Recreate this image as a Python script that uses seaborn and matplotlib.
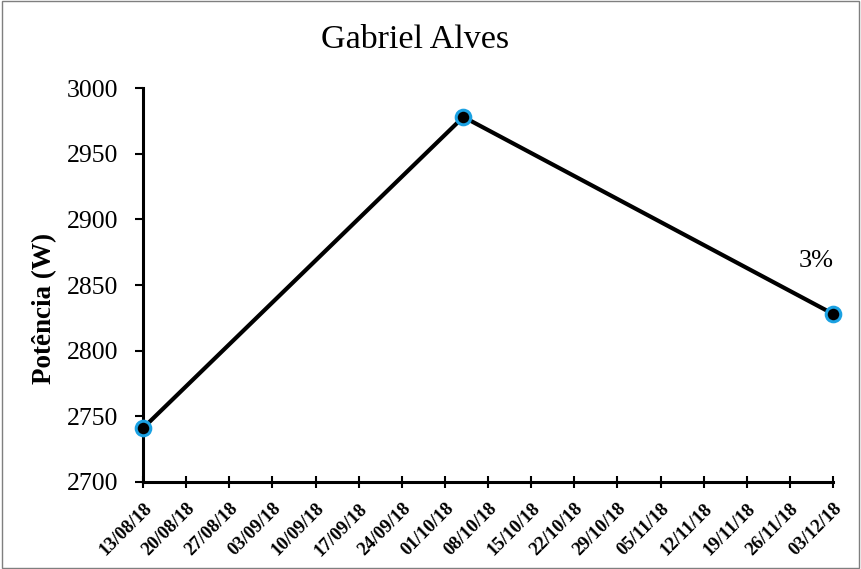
import matplotlib
matplotlib.use("Agg")
import matplotlib.pyplot as plt
import seaborn as sns
import pandas as pd

# Dados
datas = ["2018-08-13", "2018-10-04", "2018-12-03"]
potencia = [2741, 2978, 2828]
titulo = "Gabriel Alves"
rotulo_y = "Potência (W)"
anotacao = "3%"

df = pd.DataFrame({"data": pd.to_datetime(datas), "potencia": potencia})

sns.set_style("white")
plt.rcParams["font.family"] = ["Liberation Serif", "DejaVu Serif"]
plt.rcParams.update({"text.color": "black", "axes.labelcolor": "black",
                     "xtick.color": "black", "ytick.color": "black"})

fig = plt.figure(figsize=(8.61, 5.69), dpi=100)
ax = fig.add_axes([0.1661, 0.1529, 0.8014, 0.6924])

sns.lineplot(data=df, x="data", y="potencia", ax=ax, color="black", linewidth=3,
             marker="o", markersize=10.5, markerfacecolor="black",
             markeredgecolor="#1BA1E2", markeredgewidth=2.2, clip_on=False, zorder=5)

# eixo x semanal
ticks = pd.date_range("2018-08-13", "2018-12-03", freq="7D")
ax.set_xlim(ticks[0], ticks[-1])
ax.set_ylim(2700, 3000)
ax.set_yticks(range(2700, 3001, 50))
ax.set_xticks(ticks)
ax.set_xticklabels([t.strftime("%d/%m/%y") for t in ticks], rotation=45, ha="right",
                   rotation_mode="anchor", fontsize=13.5, fontweight="bold")
ax.tick_params(axis="y", labelsize=18.5, length=6, width=1.5, direction="out", left=True, pad=12)
ax.tick_params(axis="x", length=8, width=1.5, direction="inout", bottom=True, pad=9)

for s in ["top", "right"]:
    ax.spines[s].set_visible(False)
for s in ["left", "bottom"]:
    ax.spines[s].set_color("black")
    ax.spines[s].set_linewidth(2.2)

ax.set_xlabel("")
ax.set_ylabel(rotulo_y, fontsize=19.5, fontweight="bold")
ax.yaxis.set_label_coords(-0.124, 0.44)
fig.text(415 / 861, 1 - 40 / 569, titulo, fontsize=24.5, ha="center", va="center")

ax.annotate(anotacao, xy=(df["data"].iloc[-1], df["potencia"].iloc[-1]),
            xytext=(-12, 38), textcoords="offset points", fontsize=19, ha="center", va="center")

fig.patches.append(plt.Rectangle((0.002, 0.002), 0.996, 0.996, transform=fig.transFigure,
                                 fill=False, edgecolor="#7f7f7f", linewidth=1))

fig.savefig("out.png", dpi=100)
